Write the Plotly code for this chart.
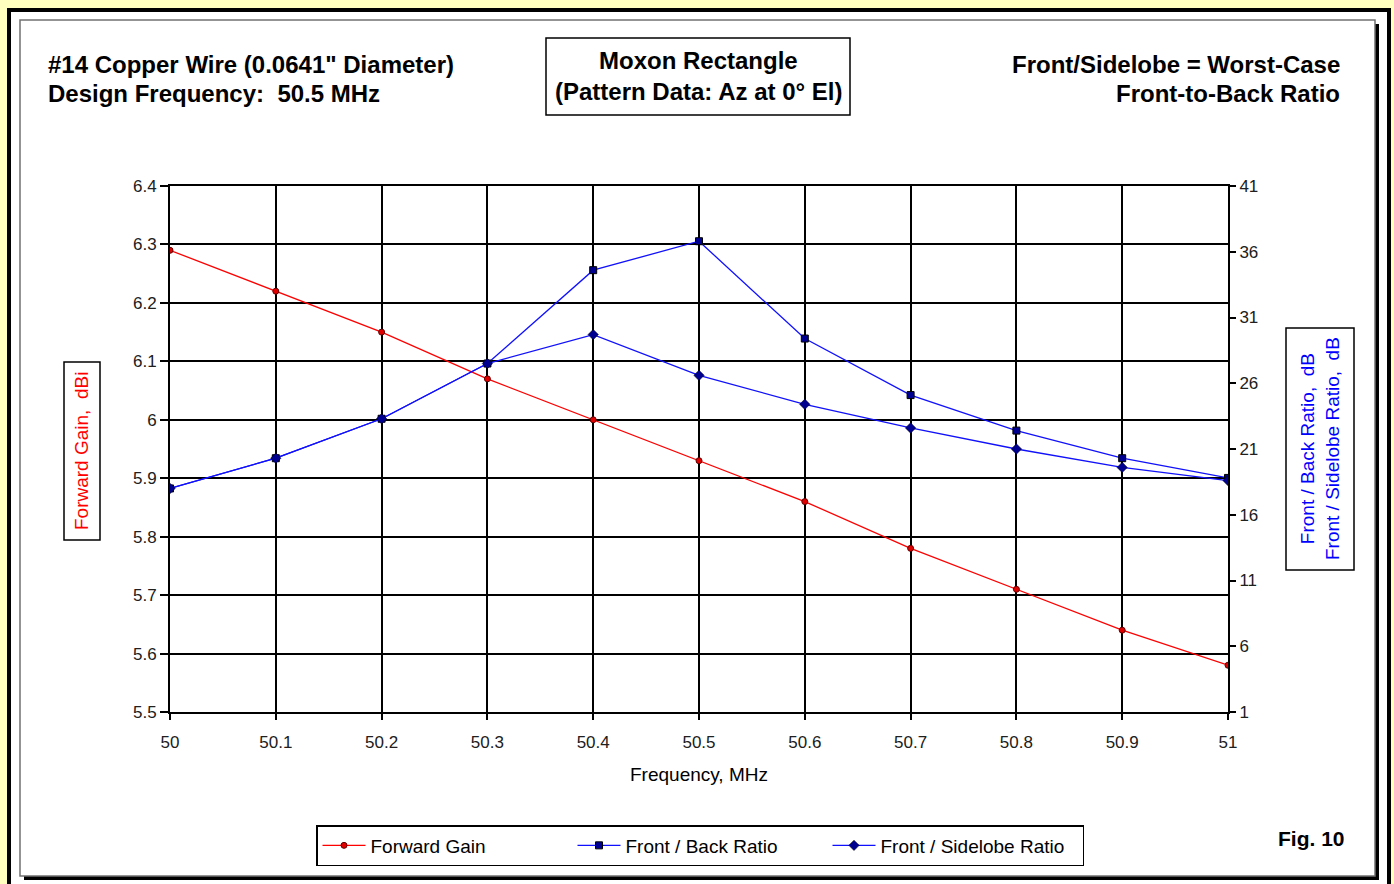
import plotly.graph_objects as go

# ---------------- data ----------------
freq = [50.0, 50.1, 50.2, 50.3, 50.4, 50.5, 50.6, 50.7, 50.8, 50.9, 51.0]
forward_gain = [6.29, 6.22, 6.15, 6.07, 6.00, 5.93, 5.86, 5.78, 5.71, 5.64, 5.58]
front_back = [18.0, 20.3, 23.3, 27.5, 34.6, 36.8, 29.4, 25.1, 22.4, 20.3, 18.8]
front_side = [18.0, 20.3, 23.3, 27.5, 29.7, 26.6, 24.4, 22.6, 21.0, 19.6, 18.6]

x_ticks = [50.0, 50.1, 50.2, 50.3, 50.4, 50.5, 50.6, 50.7, 50.8, 50.9, 51.0]
x_labels = ["50", "50.1", "50.2", "50.3", "50.4", "50.5", "50.6", "50.7", "50.8", "50.9", "51"]
y1_ticks = [5.5, 5.6, 5.7, 5.8, 5.9, 6.0, 6.1, 6.2, 6.3, 6.4]
y1_labels = ["5.5", "5.6", "5.7", "5.8", "5.9", "6", "6.1", "6.2", "6.3", "6.4"]
y2_ticks = [1, 6, 11, 16, 21, 26, 31, 36, 41]
y2_labels = ["1", "6", "11", "16", "21", "26", "31", "36", "41"]

FONT = "Liberation Sans, Arial, sans-serif"
W, H = 1394, 884
PL, PR, PT, PB = 170, 1228, 186, 712  # plot area in pixels


def px(x):
    return (x - PL) / (PR - PL)


def py(y):
    return (PB - y) / (PB - PT)


fig = go.Figure()
fig.add_trace(go.Scatter(
    x=freq, y=forward_gain, name="Forward Gain", mode="lines+markers",
    line=dict(color="#FF0000", width=1.3),
    marker=dict(symbol="circle", size=6, color="#E00000", line=dict(color="#600000", width=1)),
    yaxis="y"))
fig.add_trace(go.Scatter(
    x=freq, y=front_back, name="Front / Back Ratio", mode="lines+markers",
    line=dict(color="#1010FF", width=1.3),
    marker=dict(symbol="square", size=7, color="#000090", line=dict(color="#000000", width=1)),
    yaxis="y2"))
fig.add_trace(go.Scatter(
    x=freq, y=front_side, name="Front / Sidelobe Ratio", mode="lines+markers",
    line=dict(color="#1010FF", width=1.3),
    marker=dict(symbol="diamond", size=8, color="#000090", line=dict(color="#000000", width=0.5)),
    yaxis="y2"))

shapes = []


def rect(x0, y0, x1, y1, fill, line_color=None, lw=0):
    shapes.append(dict(type="rect", xref="paper", yref="paper", layer="below",
                       x0=px(x0), x1=px(x1), y0=py(y0), y1=py(y1),
                       fillcolor=fill,
                       line=dict(color=line_color or fill, width=lw)))


rect(7, 8, 1391, 900, "#000000")
rect(11, 12, 1387, 900, "#FFFFFF")
rect(24, 24, 1379, 880, "#000000")
rect(20, 20, 1375, 876, "#FFFFFF", "#707070", 1.5)
rect(546, 38, 850, 115, "#FFFFFF", "#000000", 1.5)
rect(64, 362, 100, 540, "#FFFFFF", "#000000", 1.5)
rect(1286, 328, 1354, 570, "#FFFFFF", "#000000", 1.5)

ann = []


def text(t, x, y, xa="center", ya="middle", size=16, color="#000000", bold=False, angle=0, align="center"):
    ann.append(dict(text=("<b>%s</b>" % t) if bold else t, xref="paper", yref="paper",
                    x=px(x), y=py(y), xanchor=xa, yanchor=ya, showarrow=False,
                    textangle=angle, align=align,
                    font=dict(family=FONT, size=size, color=color)))


text("#14 Copper Wire (0.0641\" Diameter)", 46, 65, xa="left", size=24, bold=True)
text("Design Frequency:\u00a0 50.5 MHz", 46, 93, xa="left", size=24, bold=True)
text("Moxon Rectangle", 698, 61, size=24, bold=True)
text("(Pattern Data: Az at 0° El)", 698, 92, size=24, bold=True)
text("Front/Sidelobe = Worst-Case", 1342, 65, xa="right", size=24, bold=True)
text("Front-to-Back Ratio", 1342, 93, xa="right", size=24, bold=True)
text("Fig. 10", 1347, 838, xa="right", size=21, bold=True)
text("Frequency, MHz", 699, 774, size=19)
text("Forward Gain,\u00a0 dBi", 82, 451, size=19, color="#FF0000", angle=-90)
text("Front / Back Ratio,\u00a0 dB<br>Front / Sidelobe Ratio,\u00a0 dB", 1320, 449,
     size=19, color="#0000FF", angle=-90)

fig.update_layout(
    width=W, height=H, autosize=False,
    margin=dict(l=PL, r=W - PR, t=PT, b=H - PB, pad=0),
    paper_bgcolor="#FFFFC0", plot_bgcolor="#FFFFFF",
    font=dict(family=FONT, size=16, color="#000000"),
    shapes=shapes, annotations=ann,
    showlegend=True,
    legend=dict(orientation="h", x=px(316), y=py(825), xanchor="left", yanchor="top",
                entrywidth=197, entrywidthmode="pixels", itemwidth=43,
                bgcolor="#FFFFFF", bordercolor="#000000", borderwidth=1.5,
                font=dict(family=FONT, size=19, color="#000000"),
                itemclick=False),
    xaxis=dict(range=[50, 51], tickvals=x_ticks, ticktext=x_labels,
               showgrid=True, gridcolor="#000000", gridwidth=2,
               showline=True, linecolor="#000000", linewidth=2, mirror=True,
               ticks="outside", ticklen=6, tickcolor="#000000", tickwidth=2,
               ticklabelstandoff=8, zeroline=False,
               tickfont=dict(family=FONT, size=17, color="#202020")),
    yaxis=dict(range=[5.5, 6.4], tickvals=y1_ticks, ticktext=y1_labels,
               showgrid=True, gridcolor="#000000", gridwidth=2,
               showline=True, linecolor="#000000", linewidth=2, mirror=True,
               ticks="outside", ticklen=8, tickcolor="#000000", tickwidth=2,
               zeroline=False,
               tickfont=dict(family=FONT, size=17, color="#202020")),
    yaxis2=dict(range=[1, 41], tickvals=y2_ticks, ticktext=y2_labels,
                overlaying="y", side="right", showgrid=False, zeroline=False,
                showline=True, linecolor="#000000", linewidth=2,
                ticks="outside", ticklen=6, tickcolor="#000000", tickwidth=2,
                tickfont=dict(family=FONT, size=17, color="#202020")),
)

fig.write_html("out.html", config={"displayModeBar": False},
               post_script="document.body.style.margin='0';document.body.style.overflow='hidden';")
